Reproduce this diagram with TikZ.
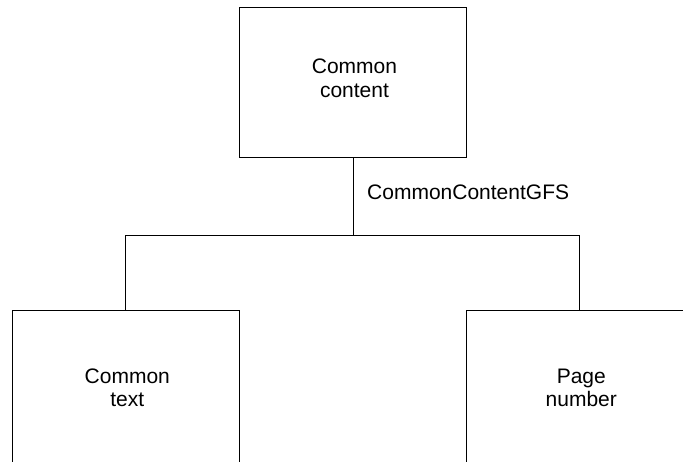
\documentclass[tikz,border=0pt]{standalone}
\usepackage{fontspec}
\setmainfont{Liberation Sans}
\begin{document}
\begin{tikzpicture}[x=1pt,y=-1pt,
  box/.style={draw=black, line width=0.9pt, minimum width=227pt, inner sep=0pt},
  txt/.style={align=center, inner sep=0pt, font=\fontsize{21}{23.5}\selectfont},
  conn/.style={draw=black, line width=0.9pt}]
\useasboundingbox (0,0) rectangle (683,461);
% boxes
\node[box, minimum height=150.4pt] (top) at (353,82.5) {};
\node[box, minimum height=152pt] (left) at (125.8,386.7) {};
\node[box, minimum height=152pt] (right) at (579.8,386.7) {};
% texts
\node[txt] (toptext) at (354.5,78.3) {Common\\content};
\node[txt] (lefttext) at (127.3,387.8) {Common\\text};
\node[txt] (righttext) at (581.3,387.8) {Page\\number};
% connectors
\coordinate (j) at (353,235.7);
\draw[conn] (top.south) -- (j);
\draw[conn] (left.north) |- (j) -| (right.north);
\node[txt, anchor=west] (gfs) at (367,192.6) {CommonContentGFS};
\end{tikzpicture}
\end{document}
